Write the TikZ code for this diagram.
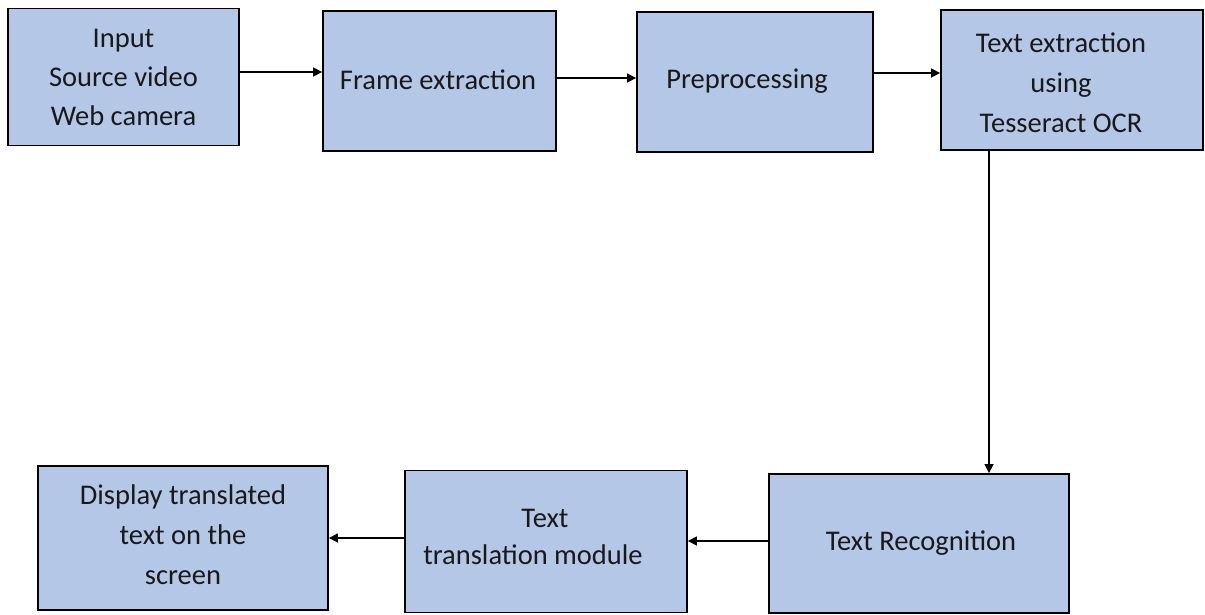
\documentclass[tikz,border=0pt]{standalone}
\usepackage{fontspec}
\setmainfont{Carlito}
\usetikzlibrary{arrows.meta}
\definecolor{boxfill}{HTML}{B4C7E7}
\begin{document}
\begin{tikzpicture}[x=1pt,y=-1pt,
  box/.style={draw=black,fill=boxfill,line width=1.8pt,inner sep=0pt},
  lbl/.style={inner sep=0pt,align=center,font=\fontsize{28.5}{39}\selectfont,text=black!90},
  arr/.style={line width=1.5pt,-{Triangle[length=9pt,width=9pt]}}]
\useasboundingbox (0,0) rectangle (1205,615);
% boxes
\node[box,minimum width=231pt,minimum height=137pt] (b1) at (123.5,77) {};
\node[box,minimum width=233pt,minimum height=140pt] (b2) at (439.5,81) {};
\node[box,minimum width=236pt,minimum height=140pt] (b3) at (755,82) {};
\node[box,minimum width=262pt,minimum height=140pt] (b4) at (1072,80) {};
\node[box,minimum width=300pt,minimum height=139pt] (b5) at (919,543.5) {};
\node[box,minimum width=282pt,minimum height=142pt] (b6) at (546,541.5) {};
\node[box,minimum width=290pt,minimum height=144pt] (b7) at (183,538) {};
% labels
\node[lbl] (t1) at (123.5,77) {Input\\Source video\\Web camera};
\node[lbl] (t2) at (438,80) {Frame extraction};
\node[lbl] (t3) at (747,81) {Preprocessing};
\node[lbl,font=\fontsize{28.5}{40}\selectfont] (t4) at (1061,83) {Text extraction\\using\\Tesseract OCR};
\node[lbl] (t5) at (921,543) {Text Recognition};
\node[lbl,font=\fontsize{28.5}{37}\selectfont] (t6) at (533,536.5) {\hspace*{24pt}Text\\translation module};
\node[lbl,font=\fontsize{28.5}{40}\selectfont] (t7) at (183,535) {Display translated\\text on the\\screen};
% connectors
\draw[arr] (b1.east |- 0,72) -- (b2.west |- 0,72);
\draw[arr] (b2.east |- 0,78) -- (b3.west |- 0,78);
\draw[arr] (b3.east |- 0,73) -- (b4.west |- 0,73);
\draw[arr] (b4.south -| 989,0) -- (b5.north -| 989,0);
\draw[arr] (b5.west |- 0,541) -- (b6.east |- 0,541);
\draw[arr] (b6.west |- 0,538) -- (b7.east |- 0,538);
\end{tikzpicture}
\end{document}
